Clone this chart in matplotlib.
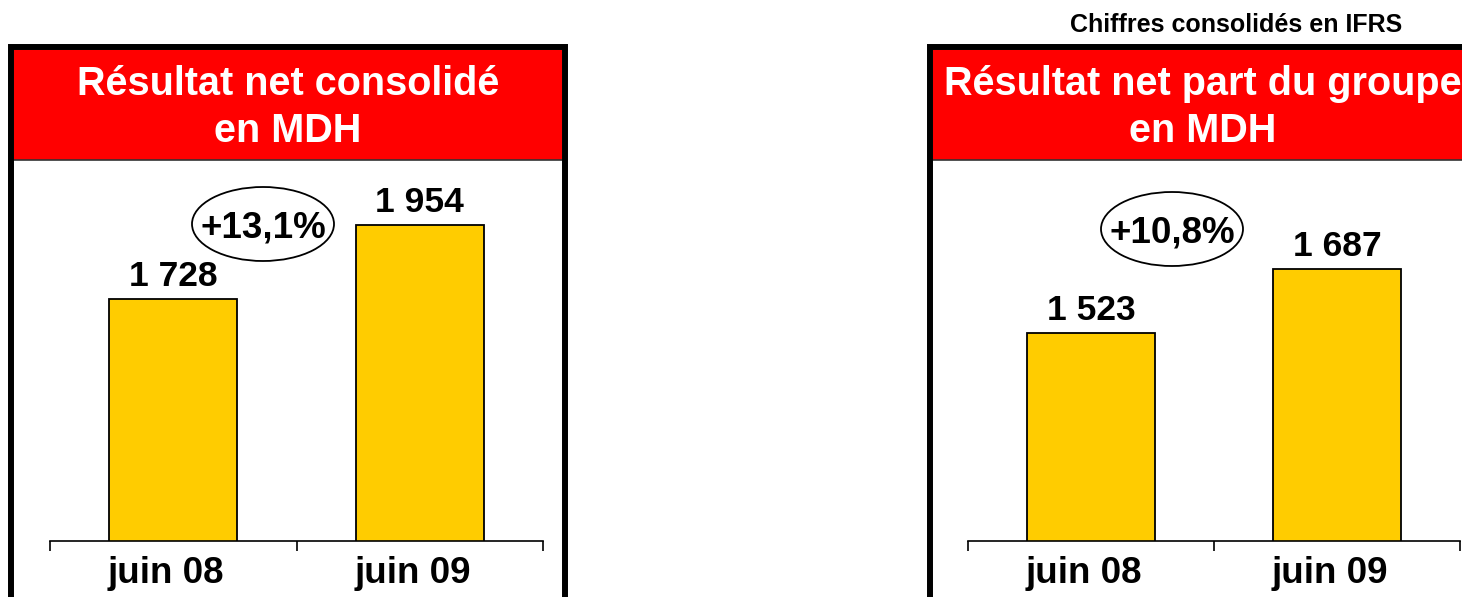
import matplotlib.pyplot as plt
from matplotlib.patches import Rectangle, Ellipse
from matplotlib.lines import Line2D
from matplotlib.transforms import ScaledTranslation

plt.rcParams['font.family'] = ['Liberation Sans', 'DejaVu Sans']
plt.rcParams['font.weight'] = 'bold'

# data
categories = ['juin 08', 'juin 09']
net_consolide = [1728, 1954]
net_groupe = [1523, 1687]
labels_consolide = ['1 728', '1 954']
labels_groupe = ['1 523', '1 687']
growth_consolide = '+13,1%'
growth_groupe = '+10,8%'

W, H = 1462, 597
fig = plt.figure(figsize=(W / 100, H / 100), dpi=100)


def px_rect(x0, y0, x1, y1):
    # pixel box (top-left origin) -> figure fraction [l, b, w, h]
    return [x0 / W, 1 - y1 / H, (x1 - x0) / W, (y1 - y0) / H]


def panel(fx0, fx1, ax_x0, ax_x1, values, labels, ylim, title, growth, ell_xy):
    # outer frame and red header
    l, b, w, h = px_rect(fx0 + 3, 47, fx1 - 3, 640)
    fig.patches.append(Rectangle((l, b), w, h, transform=fig.transFigure,
                                 facecolor='none', edgecolor='black', lw=4.3, zorder=5))
    l, b, w, h = px_rect(fx0 + 6, 50, fx1 - 6, 160)
    fig.patches.append(Rectangle((l, b), w, h, transform=fig.transFigure,
                                 facecolor='#FF0000', edgecolor='none', zorder=1))
    fig.lines.append(Line2D([l, l + w], [b, b], transform=fig.transFigure,
                            color='#333333', lw=1.2, zorder=2))
    cx = (fx0 + fx1) / 2 / W
    fig.text(cx, 1 - 95 / H, title, color='white', fontsize=28.5, ha='center', va='baseline', zorder=3)
    fig.text(cx, 1 - 142 / H, 'en MDH', color='white', fontsize=28.5, ha='center', va='baseline', zorder=3)

    # bar chart
    ax = fig.add_axes(px_rect(ax_x0, 165, ax_x1, 541))
    x = range(len(values))
    ax.bar(x, values, width=0.52, color='#FFCC00', edgecolor='black', lw=1.3, zorder=2)
    for xi, v, t in zip(x, values, labels):
        ax.annotate(t, (xi, v), xytext=(0, 9.5), textcoords='offset points',
                    ha='center', va='baseline', fontsize=25.5)
    ax.set_xlim(-0.5, 1.5)
    ax.set_ylim(*ylim)
    for s in ['left', 'right', 'top']:
        ax.spines[s].set_visible(False)
    ax.spines['bottom'].set_linewidth(1.2)
    ax.set_yticks([])
    ax.set_xticks([-0.5, 0.5, 1.5])
    ax.set_xticklabels([])
    ax.tick_params(axis='x', which='major', length=7.5, width=1.2, direction='out')
    ax.set_xticks([0, 1], minor=True)
    ax.set_xticklabels(categories, minor=True, fontsize=26.5)
    ax.tick_params(axis='x', which='minor', length=0, pad=11)
    shift = ScaledTranslation(-7 / 100, 0, fig.dpi_scale_trans)
    for lab in ax.get_xticklabels(minor=True):
        lab.set_transform(lab.get_transform() + shift)

    # growth bubble
    ex, ey = ell_xy
    fig.patches.append(Ellipse((ex / W, 1 - ey / H), 142 / W, 74 / H, transform=fig.transFigure,
                               facecolor='white', edgecolor='black', lw=1.3, zorder=4))
    fig.text(ex / W, 1 - (ey + 13) / H, growth, fontsize=26.5, ha='center', va='baseline', zorder=6)
    return ax


panel(8, 568, 50, 543, net_consolide, labels_consolide, (985, 2139),
      'Résultat net consolidé', growth_consolide, (263, 224))
panel(927, 1479, 968, 1460, net_groupe, labels_groupe, (985, 1957),
      'Résultat net part du groupe', growth_groupe, (1172, 229))

fig.text(1236 / W, 1 - 32 / H, 'Chiffres consolidés en IFRS', fontsize=18,
         ha='center', va='baseline')

fig.savefig('out.png', dpi=100)
